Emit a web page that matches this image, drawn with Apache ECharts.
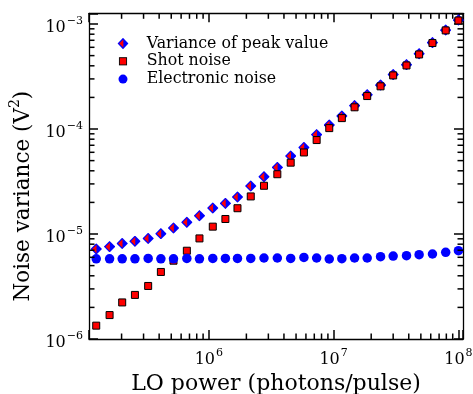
<!DOCTYPE html>
<html><head><meta charset="utf-8">
<script src="https://cdn.jsdelivr.net/npm/echarts@6/dist/echarts.min.js"></script>
<style>html,body{margin:0;padding:0;background:#fff}#c{width:473px;height:394px}</style>
</head><body><div id="c"></div>
<script>
// ---- data ----
const seriesNames = ['Variance of peak value', 'Shot noise', 'Electronic noise'];
const loPower = [1.253e5, 1.603e5, 2.023e5, 2.559e5, 3.266e5, 4.130e5, 5.212e5, 6.668e5, 8.414e5,
  1.076e6, 1.358e6, 1.697e6, 2.168e6, 2.767e6, 3.540e6, 4.529e6, 5.781e6, 7.311e6, 9.226e6,
  1.164e7, 1.472e7, 1.858e7, 2.377e7, 3.000e7, 3.837e7, 4.842e7, 6.194e7, 7.907e7, 1.0e8];
const varianceOfPeak = [7.2e-6, 7.57e-6, 8.13e-6, 8.53e-6, 9.08e-6, 1.007e-5, 1.143e-5, 1.295e-5, 1.49e-5,
  1.77e-5, 1.96e-5, 2.25e-5, 2.86e-5, 3.51e-5, 4.31e-5, 5.53e-5, 6.68e-5, 8.83e-5, 1.09e-4,
  1.33e-4, 1.67e-4, 2.12e-4, 2.62e-4, 3.30e-4, 4.10e-4, 5.20e-4, 6.65e-4, 8.75e-4, 1.09e-3];
const shotNoise = [1.34e-6, 1.69e-6, 2.23e-6, 2.63e-6, 3.20e-6, 4.35e-6, 5.57e-6, 6.93e-6, 9.08e-6,
  1.175e-5, 1.39e-5, 1.76e-5, 2.28e-5, 2.88e-5, 3.71e-5, 4.78e-5, 5.98e-5, 7.85e-5, 1.02e-4,
  1.27e-4, 1.61e-4, 2.06e-4, 2.55e-4, 3.24e-4, 4.03e-4, 5.13e-4, 6.59e-4, 8.69e-4, 1.08e-3];
const electronicNoise = [5.8e-6, 5.8e-6, 5.8e-6, 5.8e-6, 5.85e-6, 5.8e-6, 5.8e-6, 5.85e-6, 5.8e-6,
  5.85e-6, 5.85e-6, 5.86e-6, 5.86e-6, 5.91e-6, 5.91e-6, 5.86e-6, 5.98e-6, 5.91e-6, 5.78e-6,
  5.82e-6, 5.91e-6, 5.91e-6, 6.08e-6, 6.17e-6, 6.21e-6, 6.35e-6, 6.45e-6, 6.69e-6, 6.94e-6];
const xTitle = 'LO power (photons/pulse)';
const yTitle = 'Noise variance (V';

// ---- axis ranges ----
const X_MIN = 1.0965e5, X_MAX = 1.088e8;
const Y_MIN = 1e-6, Y_MAX = 1.265e-3;
const FONT = "'DejaVu Serif', serif";

function minorTicks(lo, hi) {
  const out = [];
  for (let e = Math.floor(Math.log10(lo)); e <= Math.ceil(Math.log10(hi)); e++) {
    for (let m = 2; m <= 9; m++) {
      const v = m * Math.pow(10, e);
      if (v > lo && v < hi) out.push(v);
    }
  }
  return out;
}
const xMinor = minorTicks(X_MIN, X_MAX);
const yMinor = minorTicks(Y_MIN, Y_MAX);

function powLabel(v) {
  const l = Math.log10(v);
  const e = Math.round(l);
  if (Math.abs(l - e) > 1e-6) return '';
  return '{b|10}{s|' + (e < 0 ? '\u2212' + (-e) : String(e)) + '}';
}
const labelRich = {
  b: { fontFamily: FONT, fontSize: 16, color: '#000', lineHeight: 24 },
  s: { fontFamily: FONT, fontSize: 11, color: '#000', lineHeight: 12, verticalAlign: 'top', padding: [0, 0, 0, 1] }
};

function svgUri(body) {
  return 'image://data:image/svg+xml;charset=utf-8,' +
    encodeURIComponent("<svg xmlns='http://www.w3.org/2000/svg' width='40' height='40' viewBox='0 0 40 40'>" + body + '</svg>');
}
const diamondSymbol = svgUri("<polygon points='20,0 40,20 20,40 0,20' fill='#0000ff'/><polygon points='6,20 21,5 21,35' fill='#ff0000'/>");
const legendDiamond = svgUri("<polygon points='20,1 38,20 20,39 2,20' fill='#0000ff'/><polygon points='7.5,20 21,6.5 21,33.5' fill='#ff0000'/>");
const legendSquare = svgUri("<rect x='8' y='8' width='24' height='24' fill='#ff0000' stroke='#000' stroke-width='3'/>");
const legendCircle = svgUri("<circle cx='20' cy='20' r='15' fill='#0000ff'/>");

const TICK_W = 1.5;
function mkAxisLine() { return { show: true, onZero: false, lineStyle: { color: '#000', width: 1.3 } }; }
function mkAxisTick() { return { show: true, inside: true, length: 9, lineStyle: { color: '#000', width: TICK_W } }; }

function pairs(ys) { return loPower.map((x, i) => [x, ys[i]]); }

const chart = echarts.init(document.getElementById('c'), null, { renderer: 'canvas' });
chart.setOption({
  animation: false,
  backgroundColor: '#fff',
  grid: { left: 89, right: 10, top: 13.3, bottom: 55, outerBoundsMode: 'none', containLabel: false },
  legend: {
    orient: 'vertical', left: 117, top: 35.5, padding: 0, itemWidth: 12, itemHeight: 12, itemGap: 1.8,
    selectedMode: false,
    data: [
      { name: seriesNames[0], icon: legendDiamond },
      { name: seriesNames[1], icon: legendSquare },
      { name: seriesNames[2], icon: legendCircle }
    ],
    textStyle: { fontFamily: FONT, fontSize: 15.8, color: '#000', padding: [0, 0, 0, 12.7] }
  },
  xAxis: [
    { type: 'log', min: X_MIN, max: X_MAX, position: 'bottom', axisLine: mkAxisLine(), axisTick: mkAxisTick(),
      splitLine: { show: false },
      axisLabel: { formatter: powLabel, rich: labelRich, margin: 9 },
      name: xTitle, nameLocation: 'middle', nameGap: 32,
      nameTextStyle: { fontFamily: FONT, fontSize: 22, color: '#000' } },
    { type: 'log', min: X_MIN, max: X_MAX, position: 'top', axisLine: mkAxisLine(), axisTick: mkAxisTick(),
      splitLine: { show: false }, axisLabel: { show: false } }
  ],
  yAxis: [
    { type: 'log', min: Y_MIN, max: Y_MAX, position: 'left', axisLine: mkAxisLine(), axisTick: mkAxisTick(),
      splitLine: { show: false },
      axisLabel: { formatter: powLabel, rich: labelRich, margin: 6, padding: [7, 0, 0, 0] },
      name: '{t|' + yTitle + '}{s|2}{t|)}', nameLocation: 'middle', nameGap: 54,
      nameTextStyle: { padding: [0, 40, 0, 0], rich: {
        t: { fontFamily: FONT, fontSize: 21.5, color: '#000', lineHeight: 26, verticalAlign: 'bottom' },
        s: { fontFamily: FONT, fontSize: 14, color: '#000', lineHeight: 14, verticalAlign: 'top' } } } },
    { type: 'log', min: Y_MIN, max: Y_MAX, position: 'right', axisLine: mkAxisLine(), axisTick: mkAxisTick(),
      splitLine: { show: false }, axisLabel: { show: false } }
  ],
  series: [
    { name: seriesNames[0], type: 'scatter', data: pairs(varianceOfPeak), symbol: diamondSymbol,
      symbolSize: 11.5, itemStyle: { color: '#0000ff', opacity: 1 }, z: 2 },
    { name: seriesNames[1], type: 'scatter', data: pairs(shotNoise), symbol: 'rect', symbolSize: 7,
      itemStyle: { color: '#ff0000', borderColor: '#000', borderWidth: 1, opacity: 1 }, z: 3 },
    { name: seriesNames[2], type: 'scatter', data: pairs(electronicNoise), symbol: 'circle', symbolSize: 9.5,
      itemStyle: { color: '#0000ff', opacity: 1 }, z: 4 }
  ]
});

// minor log ticks (2..9 x 10^n) on all four sides, placed with the chart's own axis scales
const toX = v => chart.convertToPixel({ xAxisIndex: 0 }, v);
const toY = v => chart.convertToPixel({ yAxisIndex: 0 }, v);
const gLeft = toX(X_MIN), gRight = toX(X_MAX), gBottom = toY(Y_MIN), gTop = toY(Y_MAX);
const tickLines = [];
function tick(x1, y1, x2, y2) {
  tickLines.push({ type: 'line', silent: true, z: 10,
    shape: { x1, y1, x2, y2 }, style: { stroke: '#000', lineWidth: TICK_W } });
}
xMinor.forEach(v => {
  const px = toX(v);
  tick(px, gBottom, px, gBottom - 5.5);
  tick(px, gTop, px, gTop + 5.5);
});
yMinor.forEach(v => {
  const py = toY(v);
  tick(gLeft, py, gLeft + 5.5, py);
  tick(gRight, py, gRight - 5.5, py);
});
chart.setOption({ graphic: tickLines });
</script>
</body></html>
